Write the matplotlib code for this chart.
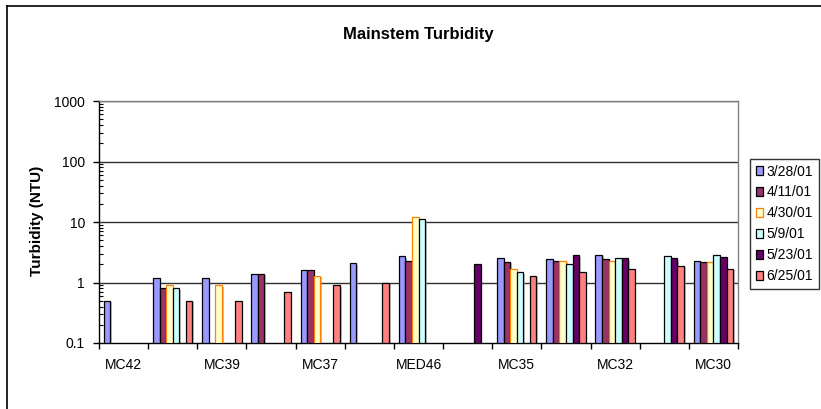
import numpy as np
import matplotlib
matplotlib.use("Agg")
import matplotlib.pyplot as plt
from matplotlib.lines import Line2D
from matplotlib import patheffects
from matplotlib.ticker import FixedLocator, NullFormatter, FuncFormatter, LogLocator

plt.rcParams['font.family'] = ['Liberation Sans', 'DejaVu Sans']

""" ------------- DADOS ------------- """

# 13 categorias, so metade tem rotulo
categorias = ["MC42", "", "MC39", "", "MC37", "", "MED46", "", "MC35", "", "MC32", "", "MC30"]
datas = ["3/28/01", "4/11/01", "4/30/01", "5/9/01", "5/23/01", "6/25/01"]

nan = np.nan
s_0328 = [0.5, 1.2, 1.2, 1.4, 1.6, 2.1, 2.7, nan, 2.5, 2.4, 2.9, nan, 2.3]
s_0411 = [nan, 0.8, nan, 1.4, 1.6, nan, 2.3, nan, 2.2, 2.3, 2.4, nan, 2.2]
s_0430 = [nan, 0.9, 0.9, nan, 1.3, nan, 12, nan, 1.7, 2.3, 2.3, nan, 2.2]
s_0509 = [nan, 0.8, nan, nan, nan, nan, 11, nan, 1.5, 2.0, 2.5, 2.7, 2.8]
s_0523 = [nan, nan, nan, nan, nan, nan, nan, 2.0, nan, 2.8, 2.5, 2.5, 2.6]
s_0625 = [nan, 0.5, 0.5, 0.7, 0.9, 1.0, nan, nan, 1.3, 1.5, 1.7, 1.9, 1.7]

series = [s_0328, s_0411, s_0430, s_0509, s_0523, s_0625]

# cores padrao do excel
preench = ["#9999FF", "#993366", "#FFFFCC", "#CCFFFF", "#660066", "#FF8080"]
bordas = ["black", "black", "#FF8000", "black", "black", "black"]

ymin, ymax = 0.1, 1000

""" ------------- GRAFICO ------------- """

fig = plt.figure(figsize=(8.21, 4.09), dpi=100)
ax = fig.add_axes([99 / 821, 66 / 409, 639 / 821, 242 / 409])
ax.set_yscale("log")

n = len(categorias)
larg = 1 / 7.5  # gap width 150%
x = np.arange(n)

sombra = [patheffects.SimplePatchShadow(offset=(1.2, -1.2), shadow_rgbFace="#999999", alpha=0.6),
          patheffects.Normal()]

for k, s in enumerate(series):
    v = np.array(s, dtype=float)
    barras = ax.bar(x + 0.1 + k * larg, v - ymin, bottom=ymin, width=larg, align="edge",
                    color=preench[k], edgecolor=bordas[k], linewidth=0.9,
                    label=datas[k], zorder=3)
    for b in barras:
        b.set_path_effects(sombra)

ax.set_xlim(0, n)
ax.set_ylim(ymin, ymax)

# linhas de grade
for g in [1, 10, 100, 1000]:
    ax.axhline(g, color="#303030", linewidth=1, zorder=1)

# eixo x: marcas nas divisas, rotulos no meio
ax.xaxis.set_major_locator(FixedLocator(np.arange(n + 1)))
ax.xaxis.set_major_formatter(NullFormatter())
ax.xaxis.set_minor_locator(FixedLocator(x + 0.5))
ax.xaxis.set_minor_formatter(FuncFormatter(lambda val, pos: categorias[int(val)]))
ax.tick_params(axis="x", which="major", direction="out", length=4.5, width=1, color="black")
ax.tick_params(axis="x", which="minor", length=0, pad=11, labelsize=10)

# eixo y
ax.yaxis.set_major_locator(LogLocator(base=10, numticks=10))
ax.yaxis.set_major_formatter(FuncFormatter(lambda val, pos: "%g" % val))
ax.yaxis.set_minor_locator(LogLocator(base=10, subs=np.arange(2, 10), numticks=20))
ax.yaxis.set_minor_formatter(NullFormatter())
ax.tick_params(axis="y", which="major", direction="out", length=4.5, width=1, pad=5.5, labelsize=10)
ax.tick_params(axis="y", which="minor", direction="in", length=3, width=0.8)

for lado in ["left", "bottom"]:
    ax.spines[lado].set_color("black")
    ax.spines[lado].set_linewidth(1)
for lado in ["top", "right"]:
    ax.spines[lado].set_color("#808080")
    ax.spines[lado].set_linewidth(1)

fig.text(37 / 821, 1 - 221 / 409, "Turbidity (NTU)", rotation=90, ha="center", va="center",
         fontsize=11, fontweight="bold")
fig.text(418 / 821, 1 - 35 / 409, "Mainstem Turbidity", ha="center", va="center",
         fontsize=12, fontweight="bold")

leg = ax.legend(loc="upper left", bbox_to_anchor=(750 / 821, 1 - 159 / 409),
                bbox_transform=fig.transFigure, fontsize=10, frameon=True, fancybox=False,
                handlelength=0.55, handleheight=0.55, handletextpad=0.25,
                labelspacing=0.5, borderpad=0.4, borderaxespad=0)
leg.get_frame().set_edgecolor("black")
leg.get_frame().set_linewidth(1)
for h in leg.legend_handles:
    h.set_path_effects([])

# borda externa do grafico
fig.add_artist(Line2D([7 / 821, 1], [1 - 6 / 409, 1 - 6 / 409], color="black", linewidth=1.2))
fig.add_artist(Line2D([7 / 821, 7 / 821], [0, 1 - 6 / 409], color="black", linewidth=1.2))

fig.savefig("out.png", dpi=100)
